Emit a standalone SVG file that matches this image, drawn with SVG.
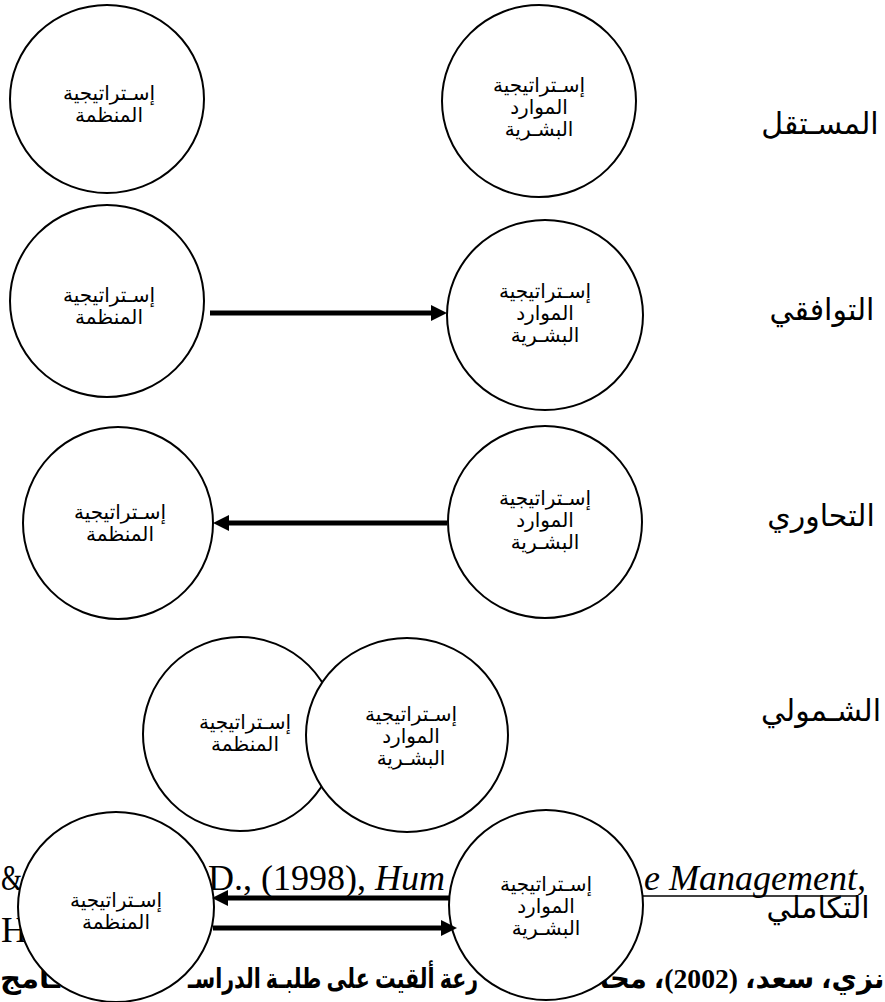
<svg xmlns="http://www.w3.org/2000/svg" width="885" height="1002" viewBox="0 0 885 1002">
  <style>
    .bg { fill: #ffffff; }
    .node { fill: #ffffff; stroke: #000000; stroke-width: 2; }
    .nt { font-family: "DejaVu Sans", sans-serif; font-size: 20px; fill: #000; text-anchor: middle; }
    .lbl { font-family: "DejaVu Sans", sans-serif; font-size: 30px; fill: #000; text-anchor: middle; }
    .ref { font-family: "Liberation Serif", serif; font-size: 36px; fill: #000; }
    .refi { font-style: italic; }
    .refar { font-family: "Liberation Serif", "DejaVu Sans", serif; font-size: 28px; font-weight: bold; fill: #000; text-anchor: middle; }
    .conn { stroke: #000; stroke-width: 5; fill: none; marker-end: url(#ah); }
  </style>
  <defs>
    <marker id="ah" markerUnits="userSpaceOnUse" markerWidth="16" markerHeight="16" refX="5" refY="8" orient="auto">
      <path d="M0,0 L16,8 L0,16 z" fill="#000"/>
    </marker>
  </defs>
  <rect class="bg" x="0" y="0" width="885" height="1002"/>

  <!-- underlying page text partially covered -->
  <g id="background-text">
    <text class="ref" x="1" y="890" textLength="21" lengthAdjust="spacingAndGlyphs">&amp;</text>
    <text class="ref" x="208" y="890">D., (1998), <tspan class="refi">Hum</tspan></text>
    <text class="ref refi" x="644" y="890">e Management,</text>
    <line x1="643" y1="896" x2="858" y2="896" stroke="#000" stroke-width="1.5"/>
    <text class="ref" x="1" y="942">H</text>
    <text class="refar" x="742" y="988" textLength="285" lengthAdjust="spacingAndGlyphs">نزي، سعد، (2002)، محا</text>
    <text class="refar" x="333" y="988" textLength="290" lengthAdjust="spacingAndGlyphs">رعة ألقيت على طلبـة الدراسـ</text>
    <text class="refar" x="30" y="988" textLength="60" lengthAdjust="spacingAndGlyphs">ـامج</text>
  </g>

  <!-- row 1: المستقل -->
  <g id="r1-org">
    <ellipse class="node" cx="107" cy="99" rx="97" ry="94"/>
    <text class="nt" x="109" y="100">إسـتراتيجية</text>
    <text class="nt" x="109" y="122">المنظمة</text>
  </g>
  <g id="r1-hr">
    <ellipse class="node" cx="539" cy="101" rx="97" ry="96"/>
    <text class="nt" x="539" y="92">إسـتراتيجية</text>
    <text class="nt" x="539" y="114">الموارد</text>
    <text class="nt" x="539" y="136">البشـرية</text>
  </g>

  <!-- row 2: التوافقي -->
  <g id="r2-org">
    <ellipse class="node" cx="107" cy="301" rx="97" ry="96"/>
    <text class="nt" x="109" y="302">إسـتراتيجية</text>
    <text class="nt" x="109" y="324">المنظمة</text>
  </g>
  <g id="r2-hr">
    <ellipse class="node" cx="545" cy="315" rx="98" ry="95"/>
    <text class="nt" x="545" y="298">إسـتراتيجية</text>
    <text class="nt" x="545" y="320">الموارد</text>
    <text class="nt" x="545" y="342">البشـرية</text>
  </g>

  <!-- row 3: التحاوري -->
  <g id="r3-org">
    <ellipse class="node" cx="118" cy="523" rx="95" ry="96"/>
    <text class="nt" x="120" y="519">إسـتراتيجية</text>
    <text class="nt" x="120" y="541">المنظمة</text>
  </g>
  <g id="r3-hr">
    <ellipse class="node" cx="545" cy="522" rx="97" ry="96"/>
    <text class="nt" x="545" y="505">إسـتراتيجية</text>
    <text class="nt" x="545" y="527">الموارد</text>
    <text class="nt" x="545" y="549">البشـرية</text>
  </g>

  <!-- row 4: الشمولي -->
  <g id="r4-org">
    <ellipse class="node" cx="240" cy="734" rx="97" ry="97"/>
    <text class="nt" x="245" y="729">إسـتراتيجية</text>
    <text class="nt" x="245" y="751">المنظمة</text>
  </g>
  <g id="r4-hr">
    <ellipse class="node" cx="407" cy="735" rx="101" ry="97"/>
    <text class="nt" x="411" y="721">إسـتراتيجية</text>
    <text class="nt" x="411" y="743">الموارد</text>
    <text class="nt" x="411" y="765">البشـرية</text>
  </g>

  <!-- row 5: التكاملي -->
  <g id="r5-org">
    <ellipse class="node" cx="116" cy="907" rx="98" ry="95"/>
    <text class="nt" x="116" y="907">إسـتراتيجية</text>
    <text class="nt" x="116" y="929">المنظمة</text>
  </g>
  <g id="r5-hr">
    <ellipse class="node" cx="546" cy="905" rx="97" ry="95"/>
    <text class="nt" x="546" y="891">إسـتراتيجية</text>
    <text class="nt" x="546" y="913">الموارد</text>
    <text class="nt" x="546" y="935">البشـرية</text>
  </g>

  <!-- connectors -->
  <g id="connectors">
    <path class="conn" d="M210,313 L436,313"/>
    <path class="conn" d="M447,523 L224,523"/>
    <path class="conn" d="M449,898 L223,898"/>
    <path class="conn" d="M213,928 L446,928"/>
  </g>

  <!-- row labels -->
  <g id="labels">
    <text class="lbl" x="820" y="134">المسـتقل</text>
    <text class="lbl" x="822" y="320">التوافقي</text>
    <text class="lbl" x="821" y="526">التحاوري</text>
    <text class="lbl" x="821" y="721">الشـمولي</text>
    <text class="lbl" x="818" y="918">التكاملي</text>
  </g>
</svg>
